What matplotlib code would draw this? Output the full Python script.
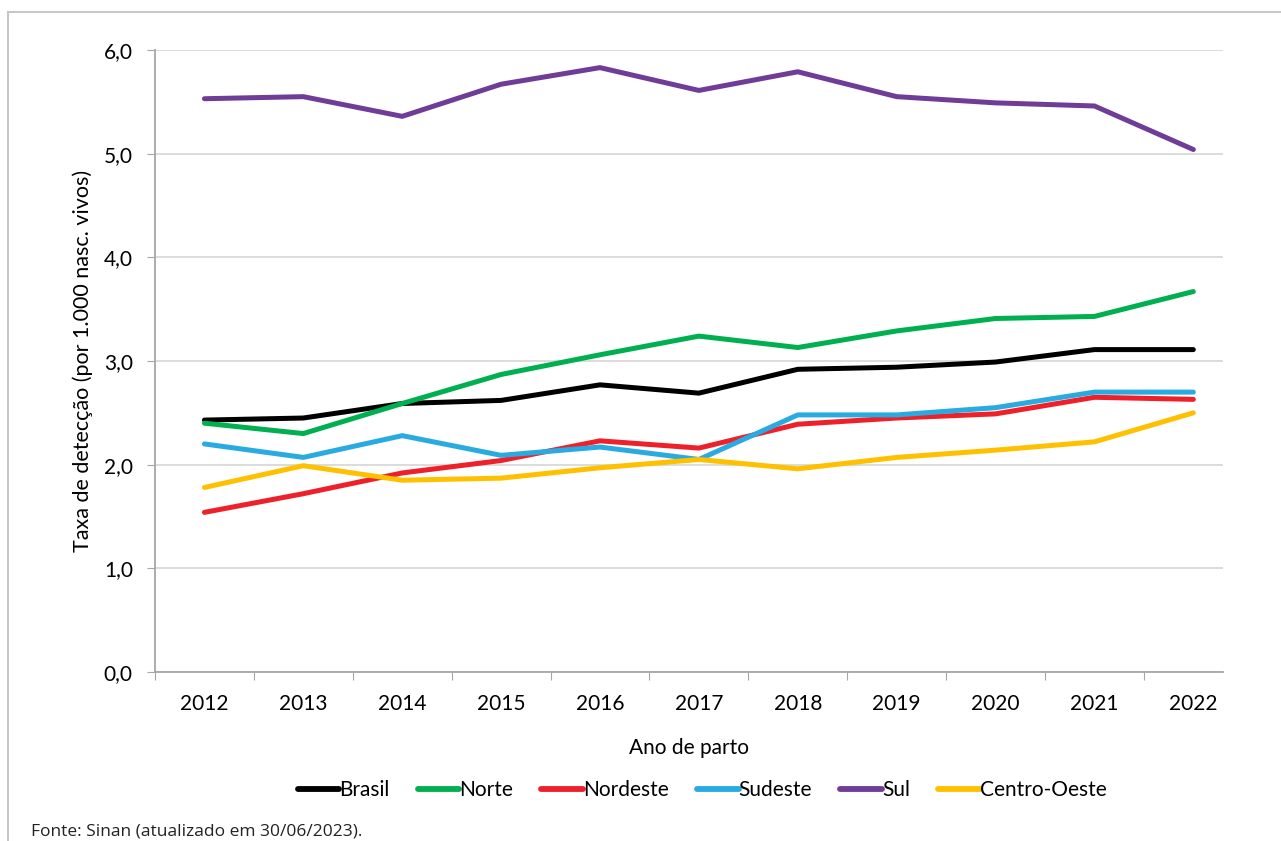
import numpy as np
import matplotlib
matplotlib.use("Agg")
import matplotlib.pyplot as plt
from matplotlib.lines import Line2D
from matplotlib.ticker import FixedLocator, NullFormatter, FuncFormatter

years = ["2012", "2013", "2014", "2015", "2016", "2017", "2018", "2019", "2020", "2021", "2022"]

brasil = [2.43, 2.45, 2.59, 2.62, 2.77, 2.69, 2.92, 2.94, 2.99, 3.11, 3.11]
norte = [2.40, 2.30, 2.59, 2.87, 3.06, 3.24, 3.13, 3.29, 3.41, 3.43, 3.67]
nordeste = [1.54, 1.72, 1.92, 2.04, 2.23, 2.16, 2.39, 2.45, 2.49, 2.65, 2.63]
sudeste = [2.20, 2.07, 2.28, 2.09, 2.17, 2.05, 2.48, 2.48, 2.55, 2.70, 2.70]
sul = [5.53, 5.55, 5.36, 5.67, 5.83, 5.61, 5.79, 5.55, 5.49, 5.46, 5.04]
centro_oeste = [1.78, 1.99, 1.85, 1.87, 1.97, 2.05, 1.96, 2.07, 2.14, 2.22, 2.50]

series = [("Brasil", brasil, "#000000"),
          ("Norte", norte, "#00b050"),
          ("Nordeste", nordeste, "#ee2029"),
          ("Sudeste", sudeste, "#29abe2"),
          ("Sul", sul, "#6f3c98"),
          ("Centro-Oeste", centro_oeste, "#ffc000")]

plt.rcParams['font.family'] = ['Lato', 'DejaVu Sans']

W, H = 1281, 841
fig = plt.figure(figsize=(W / 100, H / 100), dpi=100)

# axes placed in pixel terms
left, right, top, bottom = 155, 1223, 50, 672
ax = fig.add_axes([left / W, (H - bottom) / H, (right - left) / W, (bottom - top) / H])

x = np.arange(len(years))
for name, vals, col in series:
    ax.plot(x, vals, color=col, lw=3.6, solid_capstyle='round', label=name, zorder=3)

ax.set_ylim(0, 6)
ax.set_xlim(-0.5, 10.3)
ax.set_yticks(np.arange(0, 6.1, 1))
ax.yaxis.set_major_formatter(FuncFormatter(lambda v, p: "{:.1f}".format(v).replace(".", ",")))

ax.xaxis.set_major_locator(FixedLocator(np.arange(-0.5, 10.6, 1)))
ax.xaxis.set_major_formatter(NullFormatter())
ax.xaxis.set_minor_locator(FixedLocator(x))
ax.set_xticks(x, years, minor=True)

ax.tick_params(axis='y', length=6, color='#a6a6a6', labelsize=15, pad=10)
ax.tick_params(axis='x', which='major', length=6, color='#a6a6a6')
ax.tick_params(axis='x', which='minor', length=0, labelsize=15, pad=16)

for s in ['top', 'right']:
    ax.spines[s].set_visible(False)
for s in ['left', 'bottom']:
    ax.spines[s].set_color('#a6a6a6')
    ax.spines[s].set_linewidth(1.3)

ax.grid(axis='y', color='#d9d9d9', lw=1.3, zorder=0)
ax.set_axisbelow(True)

ax.set_ylabel("Taxa de detecção (por 1.000 nasc. vivos)", fontsize=15.5, labelpad=8)
ax.set_xlabel("Ano de parto", fontsize=15, labelpad=17)

leg = fig.legend(loc='center', bbox_to_anchor=(702 / W, 1 - 790 / H), ncol=6, frameon=False,
                 fontsize=15, handlelength=2.0, handletextpad=0.0, columnspacing=1.35)
for h in leg.get_lines():
    h.set_linewidth(4.2)

# outer frame
fig.add_artist(Line2D([8 / W, 8 / W], [0, 1 - 12 / H], color='#c8c8c8', lw=1.5))
fig.add_artist(Line2D([8 / W, 1], [1 - 12 / H, 1 - 12 / H], color='#c8c8c8', lw=1.5))

fig.text(31 / W, 1 - 831 / H, "Fonte: Sinan (atualizado em 30/06/2023).", fontsize=12.5,
         family=['Open Sans', 'DejaVu Sans'], va='center', ha='left', color='#222222')

fig.savefig("out.png", dpi=100)
